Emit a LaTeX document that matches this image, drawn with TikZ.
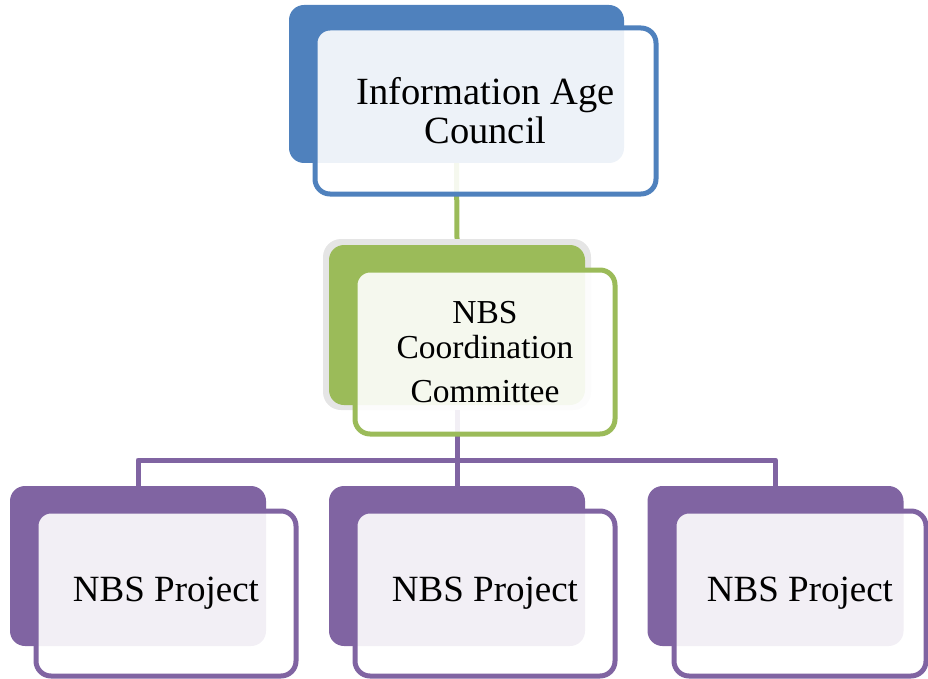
\documentclass[tikz,border=0pt]{standalone}
\usepackage{fontspec}
\setmainfont{Liberation Serif}
\definecolor{iacblue}{HTML}{4F81BD}
\definecolor{nccgreen}{HTML}{9BBB59}
\definecolor{projpurple}{HTML}{8064A2}
\tikzset{
    backbox/.style = {rectangle, rounded corners = 15, fill = #1, inner sep = 0,
        minimum width = 256, minimum height = 160},
    frontbox/.style = {rectangle, rounded corners = 15, draw = #1, line width = 5,
        fill = white, fill opacity = 0.9, text opacity = 1, draw opacity = 1,
        inner sep = 0, minimum width = 260, minimum height = 165, align = center},
    link/.style = {draw = #1, line width = 5, line join = round}
}

\begin{document}
\begin{tikzpicture}[x = 1pt, y = -1pt]
    \useasboundingbox (0, 0) rectangle (928, 679);

    \node[backbox = iacblue, minimum width = 335, minimum height = 158] (iacb) at (456.5, 84) {};
    \node[rectangle, rounded corners = 18, fill = black!10, minimum width = 268, minimum height = 171] (halo) at (457, 324.5) {};
    \node[backbox = nccgreen] (nccb) at (457, 325) {};
    \node[backbox = projpurple] (p1b) at (138, 566) {};
    \node[backbox = projpurple] (p2b) at (457, 566) {};
    \node[backbox = projpurple] (p3b) at (775.5, 566) {};

    \coordinate (bus) at (457, 460);
    \draw[link = nccgreen] (iacb.south) -- (halo.north);
    \draw[link = projpurple] (halo.south) -- (p2b.north);
    \draw[link = projpurple] (p1b.north) -- (p1b.north |- bus) -- (p3b.north |- bus) -- (p3b.north);

    \node[frontbox = iacblue, minimum width = 341, minimum height = 166, font = \fontsize{38.5}{39}\selectfont] (iac) at (485.5, 111) {Information Age\\Council};
    \node[frontbox = nccgreen, minimum height = 164, font = \fontsize{33.5}{35}\selectfont] (ncc) at (485, 352) {NBS\\Coordination\\[9pt]Committee};
    \node[frontbox = projpurple, font = \fontsize{37}{38}\selectfont] (p1) at (166, 593.5) {NBS Project};
    \node[frontbox = projpurple, font = \fontsize{37}{38}\selectfont] (p2) at (485, 593.5) {NBS Project};
    \node[frontbox = projpurple, minimum width = 252, font = \fontsize{37}{38}\selectfont] (p3) at (800, 593.5) {NBS Project};
\end{tikzpicture}
\end{document}
